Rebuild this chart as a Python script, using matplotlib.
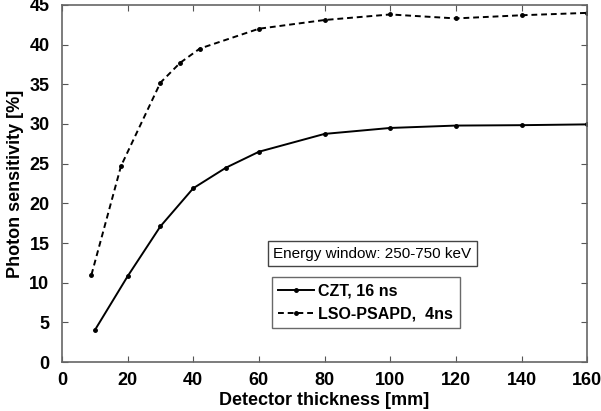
import matplotlib
matplotlib.use("Agg")
import matplotlib.pyplot as plt

# data
czt_thickness = [10, 20, 30, 40, 50, 60, 80, 100, 120, 140, 160]
czt_sensitivity = [4.0, 10.8, 17.1, 21.9, 24.5, 26.5, 28.75, 29.5, 29.8, 29.85, 29.95]

lso_thickness = [9, 18, 30, 36, 42, 60, 80, 100, 120, 140, 160]
lso_sensitivity = [11.0, 24.7, 35.2, 37.7, 39.5, 42.0, 43.1, 43.8, 43.3, 43.7, 44.0]

x_ticks = [0, 20, 40, 60, 80, 100, 120, 140, 160]
y_ticks = [0, 5, 10, 15, 20, 25, 30, 35, 40, 45]

plt.rcParams["font.family"] = ["Liberation Sans", "DejaVu Sans"]

fig = plt.figure(figsize=(6.01, 4.11), dpi=100)
ax = fig.add_axes([0.103, 0.119, 0.874, 0.869])

l1, = ax.plot(czt_thickness, czt_sensitivity, color="black", lw=1.4,
              marker=".", markersize=5, label="CZT, 16 ns")
l2, = ax.plot(lso_thickness, lso_sensitivity, color="black", lw=1.4,
              ls=(0, (3, 2)), marker=".", markersize=5,
              label="LSO-PSAPD,  4ns")

ax.set_xlim(0, 160)
ax.set_ylim(0, 45)
ax.set_xticks(x_ticks)
ax.set_yticks(y_ticks)
ax.tick_params(direction="in", top=True, right=True, length=4,
               labelsize=13, colors="#555555", labelcolor="black")
ax.tick_params(axis="x", pad=7)
ax.tick_params(axis="y", pad=9)
for lab in ax.get_xticklabels() + ax.get_yticklabels():
    lab.set_fontweight("bold")
for sp in ax.spines.values():
    sp.set_color("#666666")
    sp.set_linewidth(1.2)

ax.set_xlabel("Detector thickness [mm]", fontsize=13, fontweight="bold",
              labelpad=2)
ax.set_ylabel("Photon sensitivity [%]", fontsize=13, fontweight="bold",
              labelpad=4)

ax.text(0.402, 0.304, "Energy window: 250-750 keV", transform=ax.transAxes,
        fontsize=11, va="center", ha="left",
        bbox=dict(boxstyle="square,pad=0.35", fc="white", ec="#444444", lw=1))

leg = ax.legend(handles=[l1, l2], loc="upper left",
                bbox_to_anchor=(0.4, 0.237), frameon=True, fancybox=False,
                edgecolor="#444444", prop={"weight": "bold", "size": 11.5},
                handlelength=2.2, handletextpad=0.3, borderpad=0.4,
                labelspacing=0.5, borderaxespad=0)
leg.get_frame().set_linewidth(1)

fig.savefig("out.png", dpi=100)
